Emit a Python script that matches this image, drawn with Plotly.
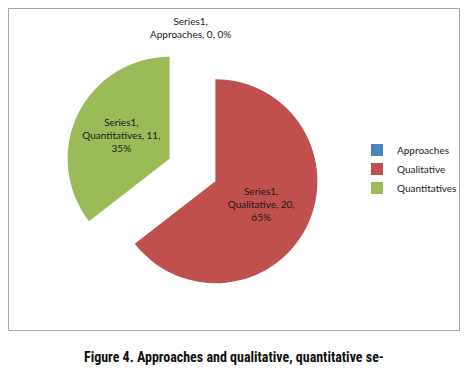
import plotly.graph_objects as go

series_name = "Series1"
categories = ["Approaches", "Qualitative", "Quantitatives"]
values = [0, 20, 11]
colors = ["#4F81BD", "#C0504D", "#9BBB59"]
caption = "Figure 4. Approaches and qualitative, quantitative se-"

W, H = 471, 368
total = sum(values)
label_font = dict(family="Lato, Carlito, Noto Sans, sans-serif", size=10, color="#1a1a1a")

fig = go.Figure()
fig.add_trace(go.Pie(
    labels=categories,
    values=values,
    marker=dict(colors=colors, line=dict(width=0)),
    sort=False,
    direction="clockwise",
    rotation=0,
    pull=[0, 0.25, 0.25],
    texttemplate=series_name + ",<br>%{label}, %{value},<br>%{percent:.0%}",
    textposition=["none" if v == 0 else "inside" for v in values],
    insidetextorientation="horizontal",
    textfont=label_font,
    hoverinfo="label+value+percent",
    domain=dict(x=[65 / W, 320 / W], y=[1 - 297.5 / H, 1 - 42.5 / H]),
    showlegend=True,
))

# label for zero-valued slice (not drawable as a wedge)
for c, v in zip(categories, values):
    if v == 0:
        pct = 0 if total == 0 else round(100 * v / total)
        fig.add_annotation(
            x=190 / W, y=1 - 27 / H, xref="paper", yref="paper",
            text=f"{series_name},<br>{c}, {v}, {pct}%", showarrow=False,
            xanchor="center", yanchor="middle", font=label_font,
        )

fig.add_annotation(
    x=234 / W, y=1 - 357 / H, xref="paper", yref="paper",
    text="<b>" + caption + "</b>", showarrow=False, xanchor="center", yanchor="middle",
    font=dict(family="Liberation Sans Narrow, Roboto Condensed, DejaVu Sans Condensed, Liberation Sans", size=14, color="#111111"),
)

fig.add_shape(type="rect", xref="paper", yref="paper",
              x0=8.5 / W, x1=459.5 / W, y0=1 - 330.5 / H, y1=1 - 8.5 / H,
              line=dict(color="#A6A6A6", width=1), fillcolor="rgba(0,0,0,0)")

fig.update_layout(
    width=W, height=H,
    margin=dict(l=0, r=0, t=0, b=0),
    paper_bgcolor="white", plot_bgcolor="white",
    legend=dict(x=357 / W, y=1 - 169 / H, xanchor="left", yanchor="middle",
                font=label_font, itemwidth=30, tracegroupgap=0,
                bgcolor="rgba(0,0,0,0)"),
)

fig.write_html("out.html", config={"displayModeBar": False},
               post_script="document.body.style.margin='0';")
